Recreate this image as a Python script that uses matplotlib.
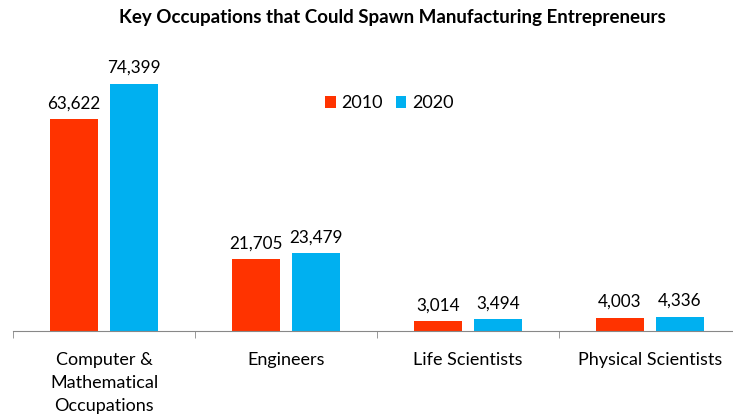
import matplotlib
matplotlib.use("Agg")
import matplotlib.pyplot as plt
import numpy as np

# DATA
categories = ["Computer &\nMathematical\nOccupations", "Engineers", "Life Scientists", "Physical Scientists"]
years = ["2010", "2020"]
values_2010 = [63622, 21705, 3014, 4003]
values_2020 = [74399, 23479, 3494, 4336]
colors = ["#FF3300", "#00B0F0"]

plt.rcParams["font.family"] = ["Lato", "DejaVu Sans"]

fig = plt.figure(figsize=(7.33, 4.18), dpi=100)
# axes placed in pixels: baseline at y=331, x from 13 to 741
W, H = 733, 418
ax = fig.add_axes([13 / W, (H - 331) / H, 728 / W, 266 / H])

x = np.arange(len(categories))
bw = 0.265
off = 0.165
b1 = ax.bar(x - off, values_2010, bw, color=colors[0], label=years[0])
b2 = ax.bar(x + off, values_2020, bw, color=colors[1], label=years[1])

for bars in (b1, b2):
    for r in bars:
        ax.text(r.get_x() + r.get_width() / 2, r.get_height() + 2300, f"{int(r.get_height()):,}",
                ha="center", va="bottom", fontsize=12.3, color="#000000")

ax.set_xlim(-0.5, len(categories) - 0.5)
ax.set_ylim(0, 80000)
ax.set_yticks([])
for s in ["top", "right", "left"]:
    ax.spines[s].set_visible(False)
ax.spines["bottom"].set_color("#888888")

ax.set_xticks(x)
ax.set_xticklabels(categories, fontsize=13, linespacing=1.55, va="top")
ax.tick_params(axis="x", which="major", length=0, pad=15)
ax.set_xticks(np.arange(-0.5, len(categories), 1), minor=True)
ax.tick_params(axis="x", which="minor", length=5, color="#888888", direction="out")

fig.text(392 / W, 1 - 18 / H, "Key Occupations that Could Spawn Manufacturing Entrepreneurs",
         ha="center", va="center", fontsize=13.5, fontweight="bold")

ax.legend(loc="upper left", bbox_to_anchor=(305 / 728, (331 - 88) / 266), ncol=2, frameon=False,
          fontsize=13, handlelength=0.6, handleheight=0.6, handletextpad=0.3, columnspacing=0.7,
          borderaxespad=0)

fig.savefig("out.png", dpi=100)
